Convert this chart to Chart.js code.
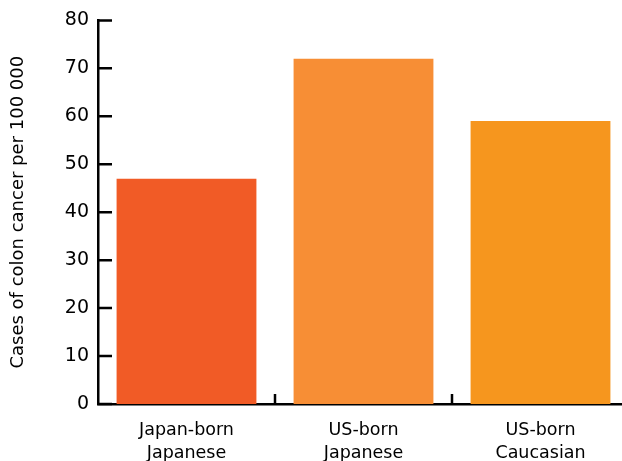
<!DOCTYPE html>
<html>
<head>
<meta charset="utf-8">
<script src="https://cdn.jsdelivr.net/npm/chart.js@4/dist/chart.umd.min.js"></script>
<style>
  html, body { margin: 0; padding: 0; background: #fff; overflow: hidden; }
  #chart { display: block; }
</style>
</head>
<body>
<canvas id="chart" width="632" height="461" style="width:632px;height:461px"></canvas>
<script>
const categories = [['Japan-born', 'Japanese'], ['US-born', 'Japanese'], ['US-born', 'Caucasian']];
const cases = [47, 72, 59];
const barColors = ['#F15B26', '#F78E35', '#F6961E'];
const yTitle = 'Cases of colon cancer per 100 000';

// inward tick marks on both axes
const innerTicks = {
  id: 'innerTicks',
  afterDraw(chart) {
    const ctx = chart.ctx;
    const x = chart.scales.x;
    const y = chart.scales.y;
    ctx.save();
    ctx.strokeStyle = '#000';
    ctx.lineWidth = 2.5;
    ctx.beginPath();
    y.ticks.forEach(t => {
      const py = y.getPixelForValue(t.value);
      ctx.moveTo(x.left, py);
      ctx.lineTo(x.left + 14, py);
    });
    for (let i = 1; i < categories.length; i++) {
      const px = (x.getPixelForValue(i - 1) + x.getPixelForValue(i)) / 2;
      ctx.moveTo(px, y.bottom);
      ctx.lineTo(px, y.bottom - 10);
    }
    ctx.stroke();
    ctx.restore();
  }
};

new Chart(document.getElementById('chart'), {
  type: 'bar',
  data: {
    labels: categories,
    datasets: [{
      data: cases,
      backgroundColor: barColors,
      borderWidth: 0,
      barPercentage: 0.79,
      categoryPercentage: 1
    }]
  },
  options: {
    responsive: false,
    animation: false,
    devicePixelRatio: 1,
    layout: { padding: { top: 20, right: 3, left: 0, bottom: 0 } },
    plugins: {
      legend: { display: false },
      tooltip: { enabled: false }
    },
    scales: {
      x: {
        grid: { display: false, drawTicks: false },
        border: { display: true, color: '#000', width: 2.5 },
        ticks: {
          color: '#000',
          padding: 15,
          font: { family: 'DejaVu Sans', size: 17.5, lineHeight: 1.3 },
          maxRotation: 0
        },
        afterFit(scale) { scale.height = 57; }
      },
      y: {
        min: 0,
        max: 80,
        grid: { display: false, drawTicks: false },
        border: { display: true, color: '#000', width: 2.5 },
        ticks: {
          stepSize: 10,
          color: '#000',
          padding: 9,
          font: { family: 'DejaVu Sans', size: 19 }
        },
        title: {
          display: true,
          text: yTitle,
          color: '#000',
          padding: { top: 8, bottom: 0 },
          font: { family: 'DejaVu Sans', size: 18 }
        },
        afterFit(scale) { scale.width = 98; }
      }
    }
  },
  plugins: [innerTicks]
});
</script>
</body>
</html>
